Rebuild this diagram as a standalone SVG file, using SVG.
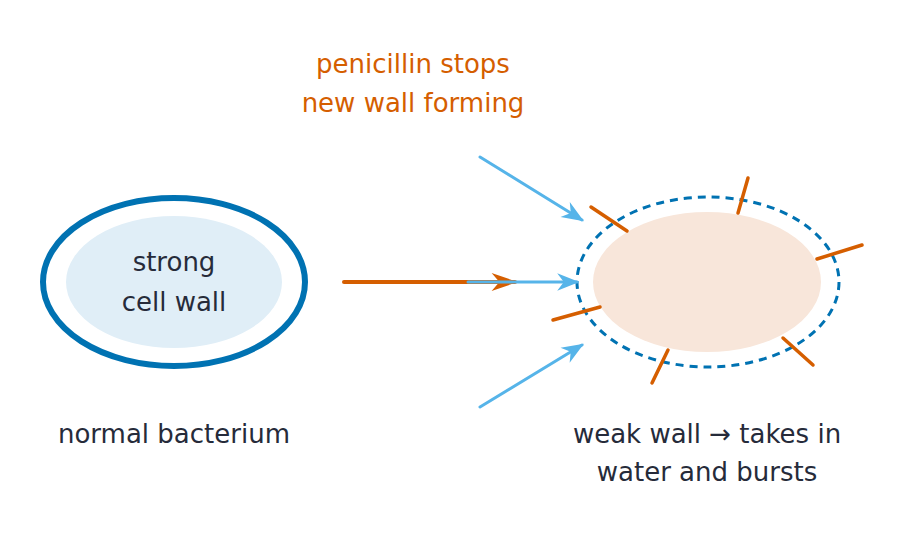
<svg xmlns="http://www.w3.org/2000/svg" width="904" height="535" viewBox="0 0 904 535">
<style>
text{font-family:"DejaVu Sans",sans-serif;font-size:26px;text-anchor:middle;fill:#262b3a}
.or{fill:#d55e00}
.tick{stroke:#d55e00;stroke-width:3.5;stroke-linecap:round}
.blue{stroke:#56b4e9;stroke-width:3;fill:none;stroke-linecap:round}
</style>
<defs>
<marker id="ab" viewBox="0 0 10 10" refX="9" refY="5" markerWidth="22" markerHeight="22" markerUnits="userSpaceOnUse" orient="auto" overflow="visible"><path d="M0,1 L10,5 L0,9 L3,5Z" fill="#56b4e9"/></marker>
<marker id="ao" viewBox="0 0 10 10" refX="9" refY="5" markerWidth="26" markerHeight="26" markerUnits="userSpaceOnUse" orient="auto" overflow="visible"><path d="M0,1.5 L10,5 L0,8.5 L3,5Z" fill="#d55e00"/></marker>
</defs>
<rect width="904" height="535" fill="#fff"/>
<g id="normal">
<ellipse cx="174" cy="282" rx="131" ry="84" fill="none" stroke="#0072b2" stroke-width="6"/>
<ellipse cx="174" cy="282" rx="108" ry="66" fill="#e0eef7"/>
<text x="174" y="271">strong</text>
<text x="174" y="311">cell wall</text>
<text x="174" y="443">normal bacterium</text>
</g>
<g id="weak">
<ellipse cx="707" cy="282" rx="114" ry="70" fill="#f8e6da"/>
<ellipse cx="708" cy="282" rx="131" ry="85" fill="none" stroke="#0072b2" stroke-width="3" stroke-dasharray="8,6"/>
<line class="tick" x1="591" y1="207" x2="627" y2="231"/>
<line class="tick" x1="748" y1="178" x2="738" y2="213"/>
<line class="tick" x1="817" y1="259" x2="862" y2="245"/>
<line class="tick" x1="553" y1="320" x2="600" y2="307"/>
<line class="tick" x1="783" y1="338" x2="813" y2="365"/>
<line class="tick" x1="652" y1="383" x2="668" y2="350"/>
<text x="707" y="443">weak wall → takes in</text>
<text x="707" y="481">water and bursts</text>
</g>
<g id="label">
<text class="or" x="413" y="73">penicillin stops</text>
<text class="or" x="413" y="112">new wall forming</text>
</g>
<g id="connectors">
<line x1="344" y1="282" x2="515" y2="282" stroke="#d55e00" stroke-width="4" stroke-linecap="round" marker-end="url(#ao)"/>
<line class="blue" x1="468" y1="282" x2="577" y2="282" marker-end="url(#ab)"/>
<line class="blue" x1="480" y1="157" x2="582" y2="220" marker-end="url(#ab)"/>
<line class="blue" x1="480" y1="407" x2="582" y2="345" marker-end="url(#ab)"/>
</g>
</svg>
